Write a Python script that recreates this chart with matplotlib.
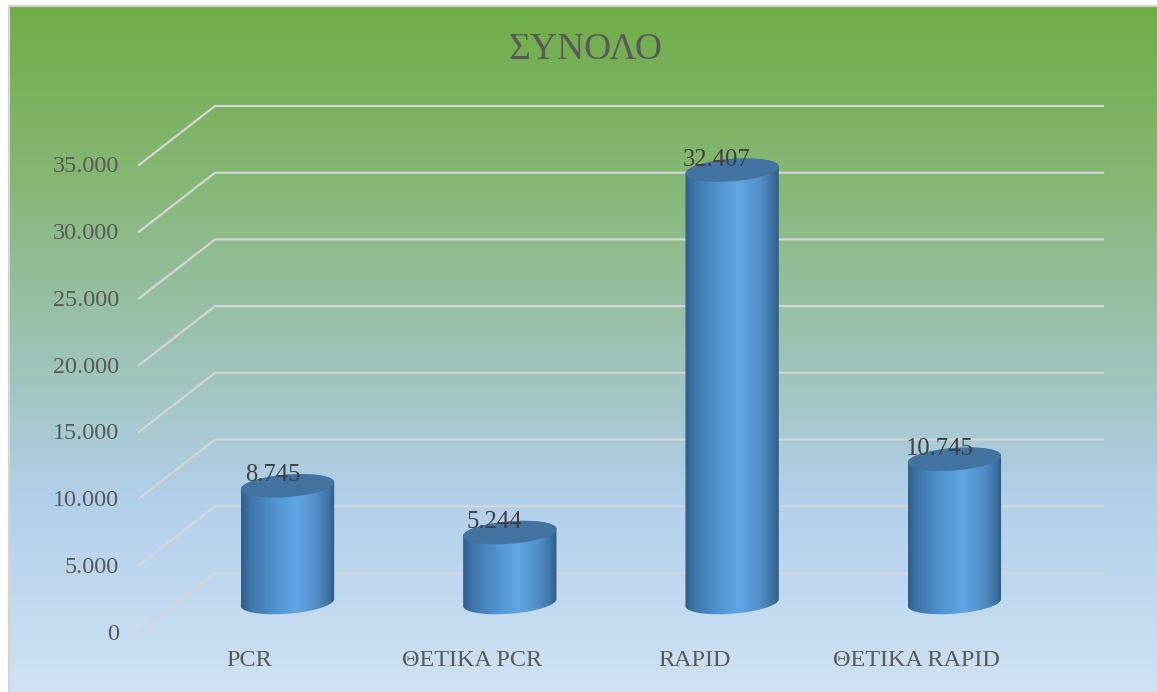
import numpy as np
import matplotlib
matplotlib.use('Agg')
import matplotlib.pyplot as plt
from matplotlib.colors import LinearSegmentedColormap
from matplotlib.patches import PathPatch
from matplotlib.path import Path

plt.rcParams['font.family'] = ['Liberation Serif', 'DejaVu Serif']

title = 'ΣΥΝΟΛΟ'
categories = ['PCR', 'ΘΕΤΙΚΑ PCR', 'RAPID', 'ΘΕΤΙΚΑ RAPID']
values = [8745, 5244, 32407, 10745]
y_ticks = [0, 5000, 10000, 15000, 20000, 25000, 30000, 35000]

W, H = 1157, 692
PX_X = 222.3           # pixels per category
PX_Y = 0.013343        # pixels per unit of value
X0, Y0 = 287.5, 602.5  # pixel position of first category at value 0


def dx(px):
    return px / PX_X


def dy(px):
    return px / PX_Y


fig = plt.figure(figsize=(W / 100, H / 100), dpi=100, facecolor='white')
ax = fig.add_axes([0, 0, 1, 1])
x_min, x_max = -X0 / PX_X, (W - X0) / PX_X
y_min, y_max = (Y0 - H) / PX_Y, Y0 / PX_Y
ax.axis('off')

# background gradient, grey frame only on the top and left sides
bg_cmap = LinearSegmentedColormap.from_list('bg', [
    (0.0, '#70AD47'), (0.25, '#85B774'), (0.5, '#9CC3B4'),
    (0.72, '#B2D0EB'), (1.0, '#CFE2F3')])
left, top = x_min + dx(9), y_max - dy(6)
grad = np.linspace(0, 1, 256).reshape(-1, 1)
ax.imshow(grad, extent=[left, x_max, y_min, top], cmap=bg_cmap,
          aspect='auto', origin='upper', zorder=0)
ax.plot([left, left, x_max], [y_min, top, top], color='#D4D4D4', lw=1.6,
        zorder=1, solid_joinstyle='miter')

# gridlines on the floor/back wall, front edge then back edge
x_front, x_back, x_end = dx(139 - X0), dx(215 - X0), dx(1103 - X0)
for v in y_ticks:
    ax.plot([x_front, x_back, x_end], [v - dy(29.5), v + dy(29.5), v + dy(29.5)],
            color='#D5D5D5', lw=1.6, zorder=2, solid_joinstyle='miter')
    ax.text(dx(119 - X0), v - dy(31.5), f'{v:,}'.replace(',', '.'), ha='right',
            va='center', fontsize=17.4, color='#595959', zorder=5)

body_cmap = LinearSegmentedColormap.from_list('body', [
    (0.0, '#2F5F8B'), (0.1, '#3F76A8'), (0.32, '#4E8FC9'), (0.58, '#60A7E6'),
    (0.8, '#528FC8'), (0.93, '#3F75A6'), (1.0, '#2F5B82')])
half_w = 46.8
half_h = 11.2
tilt = np.deg2rad(4.5)


def ellipse(t, cx, cy):
    # pixel offsets of a slightly tilted ellipse, y going up
    ex = half_w * np.cos(t)
    ey = half_h * np.sin(t)
    return (cx + dx(ex * np.cos(tilt) - ey * np.sin(tilt)),
            cy + dy(ex * np.sin(tilt) + ey * np.cos(tilt)))


for i, v in enumerate(values):
    t_low = np.linspace(np.pi, 2 * np.pi, 60)
    t_up = np.linspace(0, np.pi, 60)
    bx, by = ellipse(t_low, i, 0)
    ux, uy = ellipse(t_up, i, v)
    verts = np.column_stack([np.r_[bx, ux], np.r_[by, uy]])
    codes = [Path.MOVETO] + [Path.LINETO] * (len(verts) - 1)
    im = ax.imshow(np.linspace(0, 1, 200).reshape(1, -1), cmap=body_cmap,
                   extent=[i - dx(half_w), i + dx(half_w), -dy(20), v + dy(20)],
                   aspect='auto', zorder=3)
    patch = PathPatch(Path(verts, codes), transform=ax.transData, fc='none', ec='none')
    ax.add_patch(patch)
    im.set_clip_path(patch)

    t_all = np.linspace(0, 2 * np.pi, 120)
    tx, ty = ellipse(t_all, i, v)
    ax.fill(tx, ty, color='#4273A1', lw=0, zorder=4)

    ax.text(i - dx(15), v + dy(10.5), f'{v:,}'.replace(',', '.'), ha='center',
            va='center', fontsize=17.7, color='#404040', zorder=6)
    ax.text(i - dx(38), -dy(58), categories[i], ha='center', va='center',
            fontsize=17.4, color='#595959', zorder=5)

ax.set_xlim(x_min, x_max)
ax.set_ylim(y_min, y_max)
ax.text(dx(586 - X0), dy(Y0 - 50), title, ha='center', va='center',
        fontsize=27, color='#595959', zorder=5)

fig.savefig('out.png', dpi=100)
